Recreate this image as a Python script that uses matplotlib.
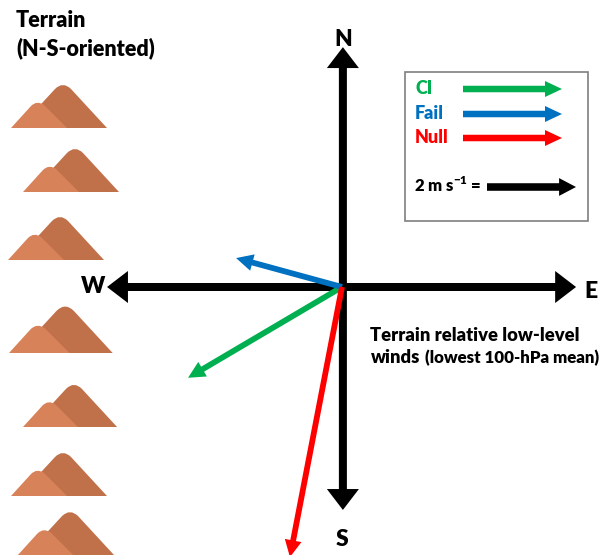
import matplotlib
matplotlib.use("Agg")
import matplotlib.pyplot as plt
from matplotlib.patches import FancyArrow, PathPatch, Rectangle
from matplotlib.path import Path

plt.rcParams['font.family'] = ['Lato', 'DejaVu Sans']
plt.rcParams['font.weight'] = 'heavy'
plt.rcParams['mathtext.fontset'] = 'custom'
plt.rcParams['mathtext.rm'] = 'Lato:heavy'
plt.rcParams['mathtext.bf'] = 'Lato:heavy'

# terrain-relative low-level wind vectors (m/s), lowest 100-hPa mean
groups = ['CI', 'Fail', 'Null']
u_wind = [-3.46, -2.38, -1.17]
v_wind = [-2.04, 0.65, -6.07]
colors = ['#00B050', '#0070C0', '#FF0000']
ref_speed = 2.0  # legend reference arrow, m/s

# mountains: left edge (px), base line (px), size factor
mtn_x = [11, 23, 8, 9, 23, 11, 17]
mtn_base = [128, 192, 260, 353, 427, 496, 556]
mtn_size = [1.0, 1.0, 1.0, 1.08, 0.98, 1.0, 1.02]

W, H = 616, 555
PX = 44.5          # pixels per m/s
OX, OY = 342, 287  # origin in pixels

fig = plt.figure(figsize=(W / 100, H / 100), dpi=100)

# pixel axes for the decorations
deco = fig.add_axes([0, 0, 1, 1])
deco.set_xlim(0, W)
deco.set_ylim(H, 0)
deco.axis('off')

# m/s axes for the compass and wind vectors
ax = fig.add_axes([0, 0, 1, 1])
ax.set_xlim(-OX / PX, (W - OX) / PX)
ax.set_ylim(-(H - OY) / PX, OY / PX)
ax.patch.set_alpha(0)
ax.axis('off')


def mountain(x0, yb, s):
    # big one behind, small lighter one in front
    bx = lambda d: x0 + d * s
    by = lambda d: yb - d * s
    big = Path([(bx(8), yb), (bx(44), by(39)), (bx(52), by(47)), (bx(60), by(39)), (bx(96), yb), (bx(8), yb)],
               [Path.MOVETO, Path.LINETO, Path.CURVE3, Path.CURVE3, Path.LINETO, Path.CLOSEPOLY])
    deco.add_patch(PathPatch(big, fc='#C1714A', ec='none'))
    small = Path([(bx(0), yb), (bx(20), by(22)), (bx(26), by(28)), (bx(33), by(23)), (bx(56), yb), (bx(0), yb)],
                 [Path.MOVETO, Path.LINETO, Path.CURVE3, Path.CURVE3, Path.LINETO, Path.CLOSEPOLY])
    deco.add_patch(PathPatch(small, fc='#D8825A', ec='none'))


for x0, yb, s in zip(mtn_x, mtn_base, mtn_size):
    mountain(x0, yb, s)

deco.text(16, 27, 'Terrain', fontsize=15.5, ha='left', va='baseline')
deco.text(16, 55, '(N-S-oriented)', fontsize=15.5, ha='left', va='baseline')

# compass
arm = dict(width=0.18, head_width=0.72, head_length=0.47, length_includes_head=True,
           fc='black', ec='none', zorder=2)
ax.add_patch(FancyArrow(0.02, 0, 5.24, 0, **arm))
ax.add_patch(FancyArrow(0.02, 0, -5.30, 0, **arm))
ax.add_patch(FancyArrow(0.02, 0, 0, 5.39, **arm))
ax.add_patch(FancyArrow(0.02, 0, 0, -5.01, **arm))
deco.text(343, 46, 'N', fontsize=16.5, ha='center', va='baseline')
deco.text(342, 546, 'S', fontsize=16.5, ha='center', va='baseline')
deco.text(93, 293, 'W', fontsize=16.5, ha='center', va='baseline')
deco.text(591, 298, 'E', fontsize=16.5, ha='center', va='baseline')

# wind vectors
for u, v, c in zip(u_wind, v_wind, colors):
    ax.add_patch(FancyArrow(0, 0, u, v, width=0.13, head_width=0.38, head_length=0.38,
                            length_includes_head=True, fc=c, ec='none', zorder=3))

deco.text(370, 341, 'Terrain relative low-level', fontsize=13.2, ha='left', va='baseline')
t_winds = deco.text(371, 363, 'winds', fontsize=13.2, ha='left', va='baseline')
# put the smaller part right after "winds"
fig.canvas.draw()
bb = t_winds.get_window_extent()
deco.annotate('(lowest 100-hPa mean)', xy=(bb.x1, 363), xycoords=('figure pixels', 'data'),
              xytext=(5, 0), textcoords='offset pixels', fontsize=12.2, ha='left', va='baseline')

# legend box
deco.add_patch(Rectangle((405, 72), 183, 149, fc='white', ec='#7F7F7F', lw=1.2))
leg_y = [94, 119, 143]
for g, c, y in zip(groups, colors, leg_y):
    deco.text(415, y, g, fontsize=13, color=c, ha='left', va='baseline')
    deco.add_patch(FancyArrow(463, y - 5, 99, 0, width=6.5, head_width=16, head_length=17,
                              length_includes_head=True, fc=c, ec='none'))
deco.text(414, 192, '2 m s$^{-1}$ =', fontsize=12, ha='left', va='baseline')
ax.add_patch(FancyArrow((487 - OX) / PX, (OY - 187) / PX, ref_speed, 0, width=0.17, head_width=0.4,
                        head_length=0.38, length_includes_head=True, fc='black', ec='none'))

fig.savefig('out.png', dpi=100)
